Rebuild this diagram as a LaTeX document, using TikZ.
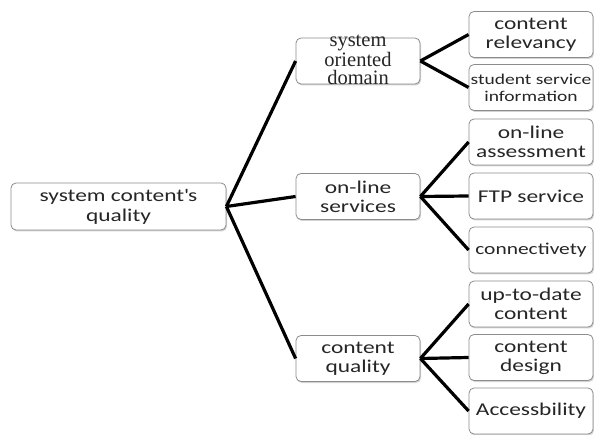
\documentclass[tikz,border=0pt]{standalone}
\usepackage{fontspec}
\setmainfont[FakeStretch=1.3]{Carlito}
\newfontfamily\serifface{Liberation Serif}
\usetikzlibrary{shadows}

\begin{document}
\begin{tikzpicture}[x=1pt,y=-1pt,
  box/.style={draw=black!45, line width=0.8pt, rounded corners=5pt, fill=white,
    minimum width=124pt, minimum height=46pt, inner sep=0pt, align=center,
    text=black!85, font=\fontsize{18}{19}\selectfont,
    drop shadow={shadow xshift=1pt, shadow yshift=-1.5pt, opacity=0.35}},
  smallbox/.style={box, font=\fontsize{15}{17}\selectfont},
  serifbox/.style={inner sep=0pt, align=center, text=black!85,
    font=\serifface\fontsize{20.5}{18}\selectfont},
  link/.style={line width=3.2pt, black}
]
\useasboundingbox (0,0) rectangle (594,435);

% root and first level
\node[box, minimum width=215pt, minimum height=47pt, font=\fontsize{18}{20}\selectfont]
  (root) at (118.5,206.5) {system content\textquotesingle s\\quality};
\node[box] (sod) at (358,61) {};
\node[serifbox] (sodtext) at (358,60) {system\\oriented\\domain};
\node[box] (ols) at (358,196.5) {on-line\\services};
\node[box] (cq) at (358,358.5) {content\\quality};

% leaves
\node[box] (crel) at (531,34.5) {content\\relevancy};
\node[smallbox] (ssi) at (531,87.5) {student service\\information};
\node[box] (ola) at (531,142) {on-line\\assessment};
\node[box] (ftp) at (531,196) {FTP service};
\node[box, font=\fontsize{16.5}{18}\selectfont] (conn) at (531,250) {connectivety};
\node[box] (utd) at (531,304) {up-to-date\\content};
\node[box] (cd) at (531,357.5) {content\\design};
\node[box] (acc) at (531,411) {Accessbility};

% connectors
\foreach \m in {sod,ols,cq} \draw[link] (root.east) -- (\m.west);
\foreach \l in {crel,ssi} \draw[link] (sod.east) -- (\l.west);
\foreach \l in {ola,ftp,conn} \draw[link] (ols.east) -- (\l.west);
\foreach \l in {utd,cd,acc} \draw[link] (cq.east) -- (\l.west);
\end{tikzpicture}
\end{document}
